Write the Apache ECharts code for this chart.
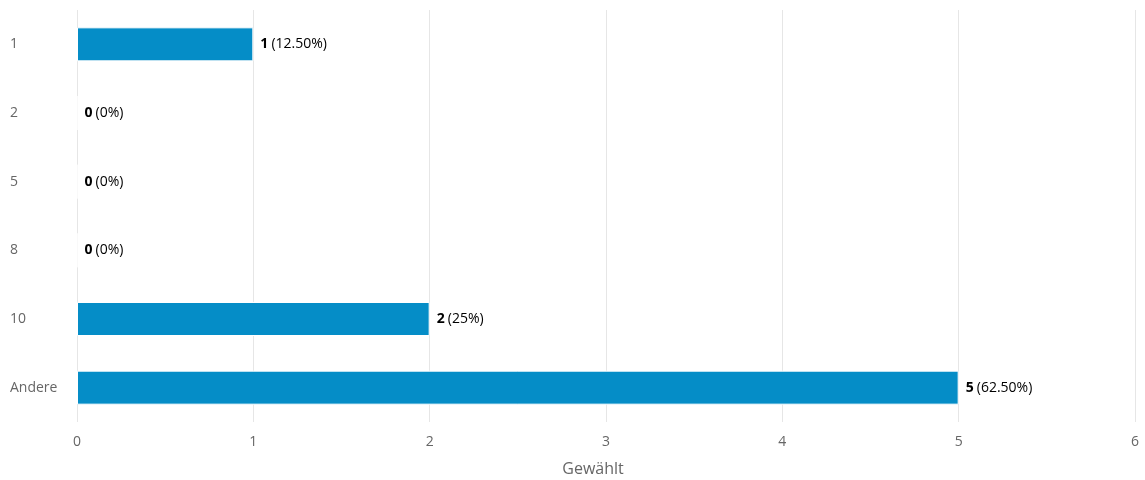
<!DOCTYPE html>
<html>
<head>
<meta charset="utf-8">
<script src="https://cdn.jsdelivr.net/npm/echarts@6/dist/echarts.min.js"></script>
<style>
  html, body { margin: 0; padding: 0; background: #fff; }
  #chart { width: 1145px; height: 480px; }
</style>
</head>
<body>
<div id="chart"></div>
<script>
// Answer options and how often each was chosen
const categories = ['1', '2', '5', '8', '10', 'Andere'];
const counts = [1, 0, 0, 0, 2, 5];
const xTicks = [0, 1, 2, 3, 4, 5, 6];
const axisTitle = 'Gewählt';

const total = counts.reduce((a, b) => a + b, 0);
function pctText(v) {
  const p = v / total * 100;
  return Number.isInteger(p) ? String(p) : p.toFixed(2);
}

const chart = echarts.init(document.getElementById('chart'));
chart.setOption({
  animation: false,
  textStyle: { fontFamily: '"Open Sans", sans-serif' },
  grid: { left: 77, right: 10, top: 10, bottom: 58, containLabel: false, outerBoundsMode: 'none' },
  xAxis: {
    type: 'value',
    min: xTicks[0],
    max: xTicks[xTicks.length - 1],
    interval: 1,
    name: axisTitle,
    nameLocation: 'middle',
    nameGap: 39,
    // title sits slightly left of the plot centre
    nameTextStyle: { color: '#666', fontSize: 16, padding: [0, 26, 0, 0] },
    axisLine: { show: false },
    axisTick: { show: false },
    axisLabel: { color: '#666', fontSize: 14, margin: 13 },
    splitLine: { show: true, lineStyle: { color: '#e6e6e6', width: 1 } }
  },
  yAxis: {
    type: 'category',
    data: categories,
    inverse: true,
    axisLine: { show: false },
    axisTick: { show: false },
    axisLabel: { color: '#666', fontSize: 14, align: 'left', margin: 67 },
    splitLine: { show: false }
  },
  series: [{
    type: 'bar',
    data: counts,
    barWidth: 34,
    itemStyle: { color: '#058dc7', borderColor: '#ffffff', borderWidth: 1 },
    label: {
      show: true,
      position: 'right',
      distance: 7,
      formatter: p => '{b|' + p.value + '} {n|(' + pctText(p.value) + '%)}',
      rich: {
        b: { fontWeight: 'bold', color: '#000', fontSize: 14, fontFamily: '"Open Sans", sans-serif' },
        n: { color: '#000', fontSize: 14, fontFamily: '"Open Sans", sans-serif' }
      }
    }
  }]
});
</script>
</body>
</html>
